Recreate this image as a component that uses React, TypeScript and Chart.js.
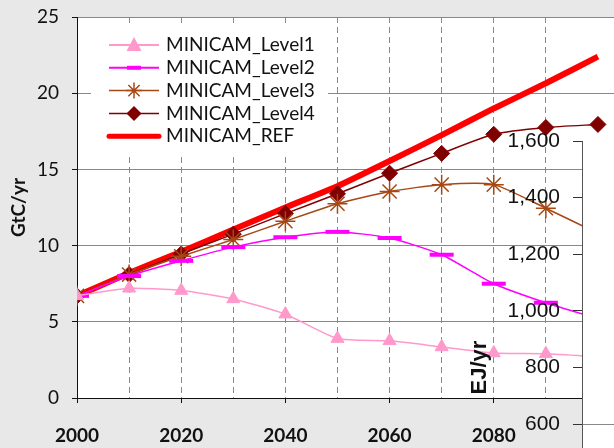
import React, { useEffect, useRef } from 'react';
import { Chart, registerables } from 'chart.js';

Chart.register(...registerables);

// ---- data ----
const years = [2000, 2010, 2020, 2030, 2040, 2050, 2060, 2070, 2080, 2090, 2100];
const level1 = [6.7, 7.2, 7.05, 6.5, 5.5, 3.9, 3.75, 3.35, 2.95, 2.9, 2.7];
const level2 = [6.7, 8.0, 9.0, 9.9, 10.55, 10.9, 10.5, 9.4, 7.5, 6.25, 5.2];
const level3 = [6.7, 8.1, 9.3, 10.4, 11.6, 12.75, 13.55, 14.0, 14.0, 12.45, 10.8];
const level4 = [6.7, 8.1, 9.45, 10.75, 12.1, 13.4, 14.75, 16.05, 17.3, 17.75, 17.95];
const ref = [6.7, 8.2, 9.6, 11.05, 12.5, 13.9, 15.55, 17.25, 19.0, 20.65, 22.4];
const seriesLabels = ['MINICAM_Level1', 'MINICAM_Level2', 'MINICAM_Level3', 'MINICAM_Level4', 'MINICAM_REF'];
const ejTicks = [0, 200, 400, 600, 800, 1000, 1200, 1400, 1600];

const PINK = '#ff99cc';
const MAGENTA = '#ff00ff';
const BROWN = '#a64814';
const DARKRED = '#800000';
const RED = '#ff0000';
const BG = '#e8e8e8';
const GRID = '#888888';
const TXT = '#111111';

const W = 614;
const H = 448;

function drawStar(ctx: CanvasRenderingContext2D, x: number, y: number, r: number) {
  ctx.beginPath();
  for (let k = 0; k < 4; k++) {
    const a = (k * Math.PI) / 4;
    ctx.moveTo(x - Math.cos(a) * r, y - Math.sin(a) * r);
    ctx.lineTo(x + Math.cos(a) * r, y + Math.sin(a) * r);
  }
  ctx.stroke();
}

const bgPlugin = {
  id: 'bgPlugin',
  beforeDraw(chart: any) {
    const { ctx, chartArea } = chart;
    ctx.save();
    ctx.fillStyle = BG;
    ctx.fillRect(0, 0, chart.width, chart.height);
    ctx.fillStyle = '#ffffff';
    ctx.fillRect(chartArea.left, chartArea.top, chartArea.right - chartArea.left, chartArea.bottom - chartArea.top);
    ctx.restore();
  },
};

const legendPlugin = {
  id: 'customLegend',
  afterDraw(chart: any) {
    const { ctx, chartArea } = chart;
    const bx = chartArea.left + 14;
    const by = chartArea.top + 10;
    ctx.save();
    ctx.fillStyle = '#ffffff';
    ctx.fillRect(bx, by, 237, 128);
    const x0 = bx + 18;
    const x1 = bx + 68;
    const xm = (x0 + x1) / 2;
    chart.data.datasets.forEach((ds: any, i: number) => {
      const y = by + 18 + i * 22.8;
      const c = ds.borderColor;
      ctx.strokeStyle = c;
      ctx.fillStyle = c;
      ctx.lineCap = i === 4 ? 'round' : 'butt';
      ctx.lineWidth = i === 4 ? 5 : i < 2 ? 2 : 1.5;
      ctx.beginPath();
      ctx.moveTo(x0, y);
      ctx.lineTo(x1, y);
      ctx.stroke();
      ctx.lineCap = 'butt';
      if (i === 0) {
        ctx.beginPath();
        ctx.moveTo(xm, y - 8);
        ctx.lineTo(xm + 7.5, y + 6);
        ctx.lineTo(xm - 7.5, y + 6);
        ctx.closePath();
        ctx.fill();
      } else if (i === 1) {
        ctx.lineWidth = 4;
        ctx.beginPath();
        ctx.moveTo(xm - 7, y);
        ctx.lineTo(xm + 7, y);
        ctx.stroke();
      } else if (i === 2) {
        ctx.lineWidth = 1.5;
        drawStar(ctx, xm, y, 8);
      } else if (i === 3) {
        ctx.beginPath();
        ctx.moveTo(xm, y - 7.5);
        ctx.lineTo(xm + 7.5, y);
        ctx.lineTo(xm, y + 7.5);
        ctx.lineTo(xm - 7.5, y);
        ctx.closePath();
        ctx.fill();
      }
      ctx.fillStyle = TXT;
      ctx.font = '19px Lato';
      ctx.textBaseline = 'middle';
      ctx.textAlign = 'left';
      ctx.fillText(ds.label, x1 + 7, y);
    });
    ctx.restore();
  },
};

const whitePlugin = {
  id: 'whitePlugin',
  beforeDraw(chart: any) {
    const { ctx, chartArea } = chart;
    ctx.save();
    ctx.fillStyle = '#ffffff';
    ctx.fillRect(chartArea.left, chartArea.top, chart.width - chartArea.left, chart.height - chartArea.top);
    ctx.restore();
  },
};

export default function App() {
  const mainRef = useRef<HTMLCanvasElement>(null);
  const overRef = useRef<HTMLCanvasElement>(null);

  useEffect(() => {
    const toXY = (arr: number[]) => years.map((x, i) => ({ x, y: arr[i] }));
    const main = new Chart(mainRef.current as HTMLCanvasElement, {
      type: 'line',
      data: {
        datasets: [
          {
            label: seriesLabels[0], data: toXY(level1), borderColor: PINK, backgroundColor: PINK,
            borderWidth: 1.5, pointStyle: 'triangle', pointRadius: 7.5, pointBorderWidth: 1,
            pointBackgroundColor: PINK, pointBorderColor: PINK, tension: 0.2,
          },
          {
            label: seriesLabels[1], data: toXY(level2), borderColor: MAGENTA, backgroundColor: MAGENTA,
            borderWidth: 1.5, pointStyle: 'line', pointRadius: 12, pointBorderWidth: 4,
            pointBorderColor: MAGENTA, tension: 0.2,
          },
          {
            label: seriesLabels[2], data: toXY(level3), borderColor: BROWN, backgroundColor: BROWN,
            borderWidth: 1.5, pointStyle: 'star', pointRadius: 10, pointBorderWidth: 1.5,
            pointBorderColor: BROWN, tension: 0.2,
          },
          {
            label: seriesLabels[3], data: toXY(level4), borderColor: DARKRED, backgroundColor: DARKRED,
            borderWidth: 1.5, pointStyle: 'rectRot', pointRadius: 8, pointBorderWidth: 1,
            pointBackgroundColor: DARKRED, pointBorderColor: DARKRED, tension: 0.2,
          },
          {
            label: seriesLabels[4], data: toXY(ref), borderColor: RED, backgroundColor: RED,
            borderWidth: 6, pointRadius: 0, tension: 0.1,
          },
        ],
      } as any,
      options: {
        responsive: false,
        animation: false,
        layout: { padding: { left: 0, top: 17, right: 1, bottom: 0 } },
        plugins: { legend: { display: false }, tooltip: { enabled: false } },
        scales: {
          x: {
            type: 'linear',
            min: 2000,
            max: 2105,
            afterBuildTicks: (s: any) => {
              s.ticks = s.ticks.filter((t: any) => t.value % 10 === 0 && t.value <= 2100);
            },
            afterFit: (s: any) => { s.height = 50; s.paddingLeft = 0; s.paddingRight = 0; },
            ticks: {
              stepSize: 10, autoSkip: false, maxRotation: 0, minRotation: 0, padding: 21, color: TXT,
              font: { family: 'Lato', size: 19, weight: 'bold' },
              callback: (v: any) => (Number(v) % 20 === 0 ? String(v) : ''),
            },
            grid: {
              color: (c: any) => (c.tick && c.tick.value === 2000 ? 'rgba(0,0,0,0)' : GRID),
              lineWidth: 1,
              tickLength: 5,
              tickWidth: 1,
              tickColor: (c: any) => (c.tick && c.tick.value % 20 === 0 ? TXT : 'rgba(0,0,0,0)'),
            },
            border: { display: true, color: TXT, width: 1, dash: [6, 4] },
          },
          y: {
            min: 0,
            max: 25,
            afterFit: (s: any) => { s.width = 77; s.paddingTop = 0; s.paddingBottom = 0; },
            ticks: { stepSize: 5, padding: 13, color: TXT, font: { family: 'Lato', size: 19 } },
            grid: {
              color: (c: any) => (c.tick && c.tick.value === 0 ? 'rgba(0,0,0,0)' : GRID),
              tickLength: 5,
              tickColor: TXT,
            },
            border: { display: true, color: TXT, width: 1 },
            title: {
              display: true, text: 'GtC/yr', color: TXT,
              font: { family: 'Lato', size: 19, weight: 'bold' },
              padding: { top: 7, bottom: 0 },
            },
          },
        },
      } as any,
      plugins: [bgPlugin, legendPlugin],
    });

    const over = new Chart(overRef.current as HTMLCanvasElement, {
      type: 'line',
      data: { datasets: [] },
      options: {
        responsive: false,
        animation: false,
        layout: { padding: { left: 465, top: 141, right: 0, bottom: 26 } },
        plugins: { legend: { display: false }, tooltip: { enabled: false } },
        scales: {
          x: { type: 'linear', display: false, min: 0, max: 1 },
          y: {
            min: ejTicks[0],
            max: ejTicks[ejTicks.length - 1],
            afterFit: (s: any) => { s.width = 117; s.paddingTop = 0; s.paddingBottom = 0; },
            afterBuildTicks: (s: any) => { s.ticks = ejTicks.map((v) => ({ value: v })); },
            ticks: {
              padding: 13, color: TXT, font: { family: 'Liberation Sans', size: 21 },
              callback: (v: any) => Number(v).toLocaleString('en-US'),
            },
            grid: {
              color: (c: any) => (c.tick && c.tick.value === 600 ? GRID : 'rgba(0,0,0,0)'),
              tickLength: 9,
              tickColor: '#333333',
            },
            border: { display: true, color: '#555555', width: 1 },
            title: {
              display: true, text: 'EJ/yr', color: TXT,
              font: { family: 'Liberation Sans', size: 22, weight: 'bold' },
              padding: { top: 2, bottom: 0 },
            },
          },
        },
      } as any,
      plugins: [whitePlugin],
    });

    return () => {
      main.destroy();
      over.destroy();
    };
  }, []);

  return (
    <div style={{ position: 'fixed', left: 0, top: 0, width: W, height: H, overflow: 'hidden', background: BG }}>
      <canvas ref={mainRef} width={640} height={H} style={{ position: 'absolute', left: 0, top: 0 }} />
      <canvas ref={overRef} width={640} height={620} style={{ position: 'absolute', left: 0, top: 0 }} />
    </div>
  );
}
